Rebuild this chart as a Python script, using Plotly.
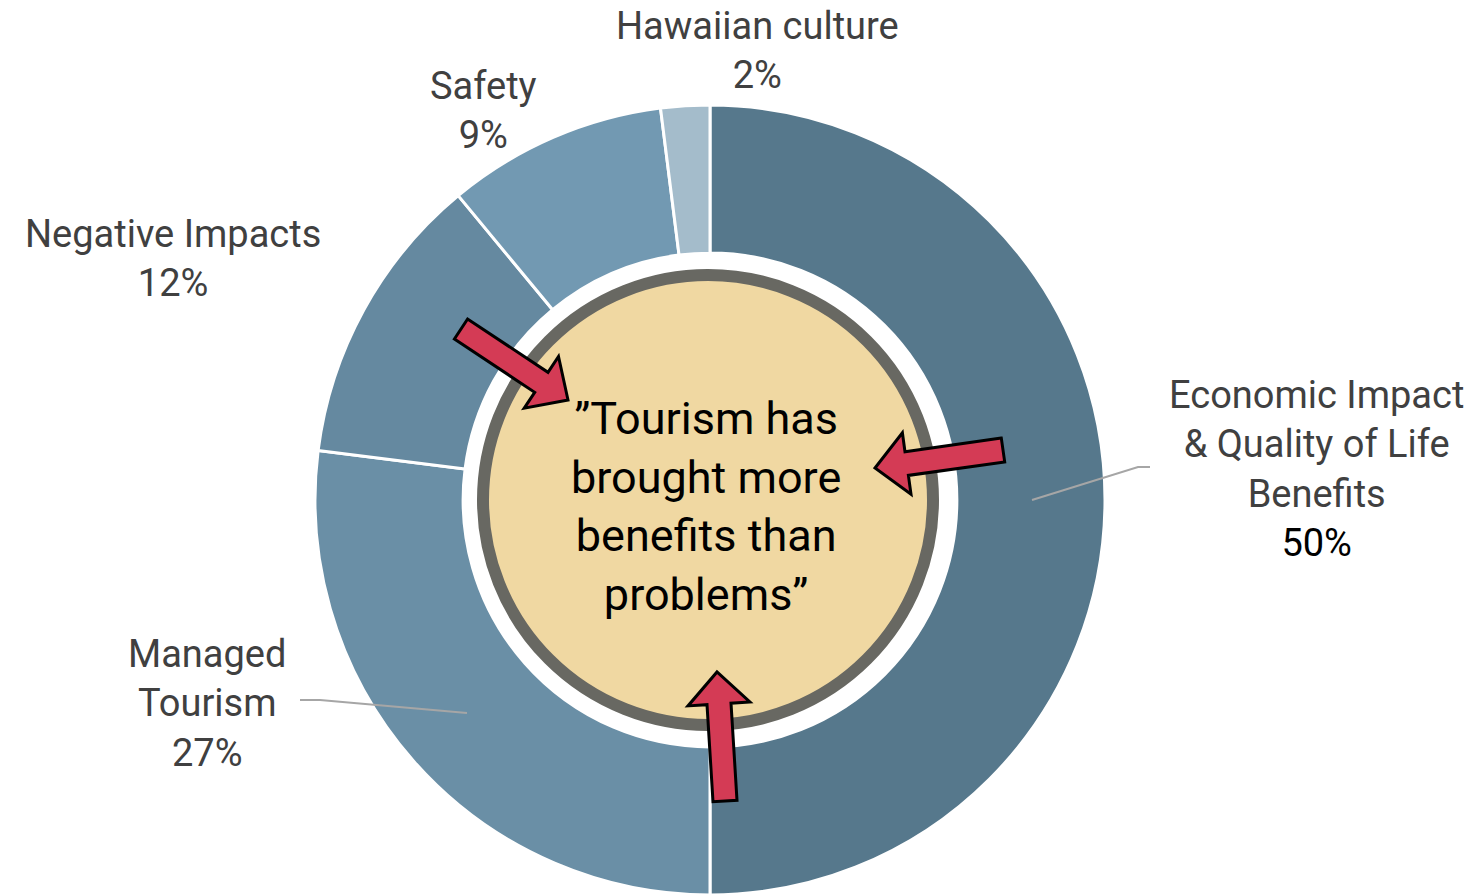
import plotly.graph_objects as go
import numpy as np

# ---- data ----
categories = ["Economic Impact<br>& Quality of Life<br>Benefits", "Managed<br>Tourism",
              "Negative Impacts", "Safety", "Hawaiian culture"]
values = [50, 27, 12, 9, 2]
colors = ["#56788C", "#6A8FA6", "#6589A0", "#7299B2", "#A4BCCB"]
center_text = "\u201dTourism has<br>brought more<br>benefits than<br>problems\u201d"

W, H = 1481, 896
CX, CY, R = 710, 500, 395

fig = go.Figure()
fig.add_trace(go.Pie(
    labels=[c.replace("<br>", " ") for c in categories], values=values,
    marker=dict(colors=colors, line=dict(color="white", width=3)),
    hole=0.625, sort=False, direction="clockwise", rotation=0,
    textinfo="none", hoverinfo="label+percent", showlegend=False,
    domain=dict(x=[(CX - R) / W, (CX + R) / W], y=[1 - (CY + R) / H, 1 - (CY - R) / H]),
))

# invisible scatter to set up pixel-based axes
fig.add_trace(go.Scatter(x=[0, W], y=[0, H], mode="markers", marker=dict(opacity=0),
                         hoverinfo="skip", showlegend=False))

shapes = []
# inner beige circle with grey ring
rc = 225
shapes.append(dict(type="circle", xref="x", yref="y", x0=CX - 2 - rc, x1=CX - 2 + rc,
                   y0=CY - rc, y1=CY + rc, fillcolor="#F0D8A2",
                   line=dict(color="#686862", width=12), layer="above"))

# leader lines
shapes.append(dict(type="path", xref="x", yref="y", path="M 1032 500 L 1138 467 L 1150 467",
                   line=dict(color="#A6A6A6", width=2)))
shapes.append(dict(type="path", xref="x", yref="y", path="M 467 713 L 320 700 L 300 700",
                   line=dict(color="#A6A6A6", width=2)))


def arrow(tail, tip, shaft=24, headw=62, headl=32):
    t = np.array(tail, float); p = np.array(tip, float)
    d = (p - t) / np.linalg.norm(p - t)
    n = np.array([-d[1], d[0]])
    b = p - d * headl
    pts = [t + n * shaft / 2, b + n * shaft / 2, b + n * headw / 2, p,
           b - n * headw / 2, b - n * shaft / 2, t - n * shaft / 2]
    return "M " + " L ".join(f"{x:.1f} {y:.1f}" for x, y in pts) + " Z"


for tail, tip in [((461, 329), (568, 400)), ((1003, 450), (875, 468)), ((725, 801), (717, 672))]:
    shapes.append(dict(type="path", xref="x", yref="y", path=arrow(tail, tip),
                       fillcolor="#D43B55", line=dict(color="black", width=3), layer="above"))

fig.update_layout(shapes=shapes)

font = "Roboto"
ann = []
label_pos = [(1316, 469, "#404040"), (207, 703, "#404040"), (173, 258, "#404040"),
             (483, 110, "#404040"), (757, 50, "#404040")]
for (x, y, c), cat, v in zip(label_pos, categories, values):
    pct_color = "black" if v == 50 else "#404040"
    ann.append(dict(x=x, y=y, xref="x", yref="y", showarrow=False,
                    text=f"{cat}<br><span style='color:{pct_color}'>{v}%</span>",
                    font=dict(family=font, size=38, color=c), align="center"))
ann.append(dict(x=706, y=506, xref="x", yref="y", showarrow=False, text=center_text,
                font=dict(family=font, size=45, color="black"), align="center"))
fig.update_layout(annotations=ann)

fig.update_layout(
    width=W, height=H, margin=dict(l=0, r=0, t=0, b=0),
    paper_bgcolor="white", plot_bgcolor="rgba(0,0,0,0)",
    xaxis=dict(range=[0, W], visible=False, fixedrange=True),
    yaxis=dict(range=[H, 0], visible=False, fixedrange=True),
)
fig.write_html("out.html")
